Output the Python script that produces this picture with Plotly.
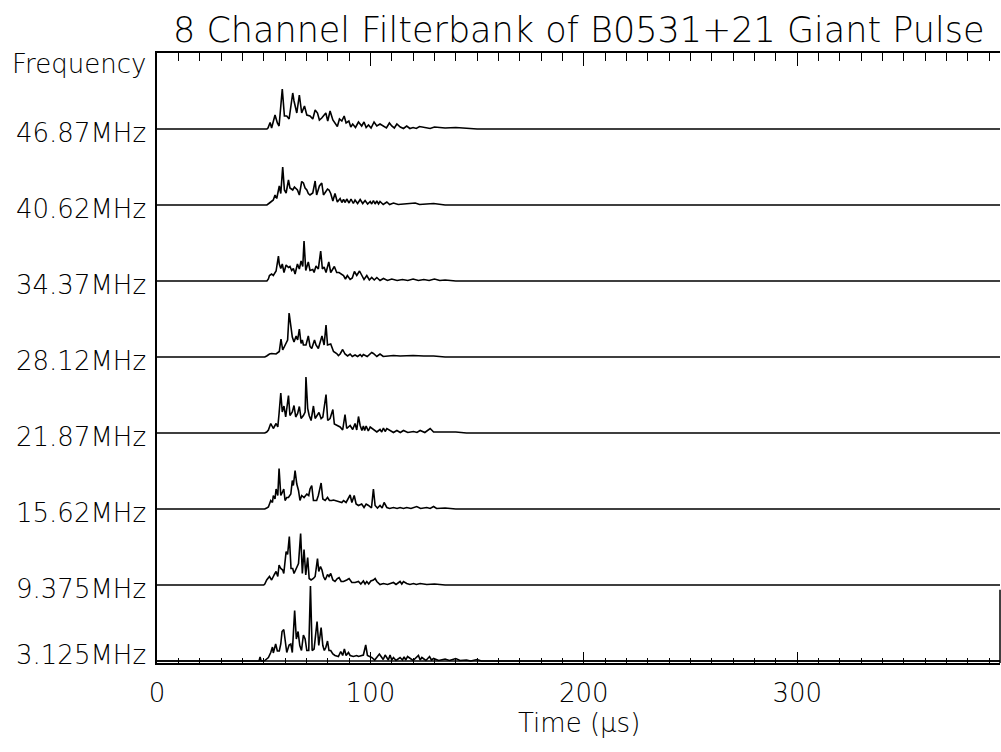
import plotly.graph_objects as go

# Filterbank channels, bottom to top
FREQ_LABELS = ["3.125MHz", "9.375MHz", "15.62MHz", "21.87MHz",
               "28.12MHz", "34.37MHz", "40.62MHz", "46.87MHz"]
X_TICKS = [0, 100, 200, 300]
T_MAX = 395          # end of the time axis (microseconds)
SPACING = 76         # vertical offset between channel baselines (arb. units)

# (time in us, detected power in arb. units) for each channel
PULSE_3125 = [(47.8, 0), (48.3, 4), (48.8, 0), (50.5, 0.5), (52.2, 3.5), (53.3, 8.5), (54.1, 14), (54.5, 8),
              (55.6, 17), (56.4, 10), (57.3, 10), (58.0, 17), (58.6, 29.5), (59.4, 31.5), (60.2, 15),
              (60.8, 8.5), (61.9, 16), (62.7, 17), (63.4, 8.5), (64.5, 50.5), (65.3, 22), (66.1, 29.5),
              (66.9, 15.5), (67.7, 10.5), (68.6, 26), (69.4, 22), (70.2, 10.5), (71.1, 10.5), (71.9, 75),
              (72.7, 10.5), (73.6, 12), (74.2, 22), (75.0, 39.5), (75.8, 15.5), (76.9, 33.5), (77.7, 15.5),
              (78.4, 10.5), (79.1, 13.5), (79.9, 20), (80.6, 10.5), (81.4, 10.5), (82.4, 7), (83.4, 5.5),
              (85.0, 4.5), (86.1, 9.5), (87.0, 5.5), (87.8, 12), (88.6, 5.5), (89.7, 8.5), (90.5, 5.5),
              (92.0, 4.5), (93.6, 5.5), (94.4, 4.5), (96.7, 6), (97.8, 16), (98.6, 5.5), (100.6, 3.5),
              (102.0, 1), (104.2, 7), (105.0, 4.5), (106.0, 1.5), (106.9, 6), (107.7, 3.5), (108.4, 1),
              (109.2, 6), (110.0, 1), (110.8, 3.5), (112.0, 0.5), (113.9, 3.5), (115.0, 1), (115.8, 4),
              (116.6, 1), (117.4, 4.5), (118.6, 2.5), (120.0, 0.5), (122.5, 5.5), (123.3, 1), (124.1, 3.5),
              (126.0, 0.5), (127.7, 4.5), (128.6, 1), (129.6, 2.5), (132.0, 0.5), (135.0, 2), (137.0, 0.5),
              (140.0, 2.5), (142.0, 0.5), (145.0, 1), (147.0, 0), (150.0, 1.5), (152.0, 0)]

PULSE_9375 = [(50.0, 0), (50.5, 1), (51.4, 5), (52.7, 8.5), (53.7, 5), (55.0, 10.5), (55.8, 13.5), (56.6, 8.5),
              (57.2, 20), (58.0, 16.5), (58.9, 15), (59.4, 11.5), (60.5, 33.5), (61.2, 30.5), (62.0, 48.5),
              (62.8, 16.5), (63.6, 16.5), (64.2, 11.5), (65.2, 16.5), (66.3, 21.5), (67.3, 51.5),
              (68.1, 11.5), (68.9, 35.5), (69.7, 10), (70.6, 27.5), (71.3, 6.5), (72.2, 5), (73.3, 6.5),
              (74.1, 8.5), (75.2, 26.5), (75.8, 13.5), (76.6, 18.5), (77.3, 15), (78.0, 8.5), (78.8, 5),
              (79.9, 10.5), (80.6, 8.5), (81.4, 11.5), (82.4, 5), (83.4, 3.5), (84.5, 6.5), (85.3, 7.5),
              (86.3, 3.5), (87.4, 3.5), (88.9, 5), (90.0, 6.5), (91.3, 2.5), (92.8, 2.5), (94.4, 3.5),
              (95.5, 1), (96.7, 4), (97.5, 1), (98.3, 3.5), (99.2, 1), (100.2, 4), (101.4, 5), (102.2, 6.5),
              (103.0, 3.5), (104.5, 0.5), (106.1, 1.5), (108.0, 0.5), (110.8, 2.5), (112.0, 0.5),
              (113.9, 3.5), (114.7, 1), (115.5, 3.5), (117.0, 1.5), (118.5, 0.5), (120.2, 1.5),
              (121.5, 0.5), (123.3, 1.5), (126.4, 0.5), (130.0, 1), (135.0, 0)]

PULSE_1562 = [(50.5, 0), (51.4, 1), (52.2, 2), (53.3, 8.5), (54.1, 6.5), (54.5, 13.5), (55.3, 10), (55.8, 20),
              (56.6, 13.5), (57.2, 40.5), (58.0, 13.5), (58.6, 16), (59.4, 20), (60.0, 8.5), (60.8, 11.5),
              (61.6, 11.5), (62.7, 15), (63.4, 28.5), (63.9, 23.5), (64.7, 38.5), (65.5, 25), (66.3, 18.5),
              (67.0, 8.5), (67.8, 13.5), (68.9, 11.5), (70.2, 15), (71.1, 13.5), (71.7, 20), (72.5, 23.5),
              (73.3, 8.5), (74.8, 8.5), (75.6, 13.5), (76.9, 26), (77.7, 10), (78.8, 8.5), (79.9, 11.5),
              (80.8, 8.5), (81.9, 8.5), (82.7, 9), (85.0, 7.5), (86.6, 6.5), (87.4, 8.5), (88.6, 6.5),
              (90.5, 14), (91.3, 6.5), (92.4, 13.5), (93.3, 5), (94.4, 3.5), (95.9, 5), (97.0, 1.5),
              (98.0, 5), (99.1, 3.5), (100.5, 1), (101.4, 20), (102.2, 3.5), (103.3, 1), (104.5, 3.5),
              (105.5, 1), (106.4, 6.5), (107.7, 1.5), (109.0, 0.5), (110.8, 1.5), (112.5, 0.5),
              (113.9, 1.5), (115.5, 0.5), (117.0, 1.5), (119.0, 0.5), (121.7, 2.5), (123.5, 0.5),
              (126.4, 1.5), (128.0, 0.5), (129.6, 2.5), (131.0, 0.5), (135.0, 1), (140.0, 0)]

PULSE_2187 = [(50.5, 0), (51.4, 1), (52.2, 3), (53.3, 9.5), (54.5, 4.5), (55.8, 9.5), (56.6, 6), (57.2, 19.5),
              (58.0, 40), (58.7, 21), (59.5, 27), (60.3, 16), (61.6, 37.5), (62.3, 17.5), (63.4, 21),
              (64.2, 27.5), (65.0, 16), (65.9, 19.5), (66.7, 26.5), (67.5, 14.5), (68.6, 17.5), (69.4, 21),
              (69.8, 56), (70.6, 24.5), (71.3, 17.5), (72.2, 12.5), (73.3, 27), (74.1, 14.5), (75.2, 17.5),
              (75.9, 20.5), (76.9, 14.5), (77.7, 16), (79.2, 38.5), (80.0, 12.5), (81.1, 14.5), (82.4, 23.5),
              (83.1, 9), (84.2, 7.5), (85.8, 6), (87.0, 3), (88.1, 18.5), (88.9, 4.5), (90.5, 7.5),
              (91.7, 3.5), (92.8, 9.5), (93.6, 3), (94.4, 16.5), (95.2, 7.5), (96.0, 2.5), (96.7, 7),
              (97.3, 2.5), (98.0, 7), (99.0, 2), (99.9, 6), (101.4, 3.5), (103.0, 1), (104.5, 3.5),
              (105.3, 1), (106.1, 5), (106.9, 1.5), (107.7, 4.5), (109.2, 2.5), (110.8, 0.5),
              (112.4, 2.5), (114.0, 0.5), (115.5, 2.5), (117.5, 0.5), (120.2, 1.5), (121.8, 0.5),
              (123.3, 2.5), (125.5, 0.5), (128.0, 4.5), (129.6, 1), (132.7, 1), (140.0, 1), (145.0, 0)]

PULSE_2812 = [(50.5, 0), (51.4, 1), (52.7, 3), (53.7, 3.5), (55.8, 3), (57.3, 5.5), (58.1, 18), (58.9, 7),
              (60.5, 14), (61.2, 17), (61.9, 44), (62.7, 30), (63.4, 20), (64.2, 15), (65.2, 21), (65.9, 17),
              (66.7, 28), (67.5, 13.5), (68.1, 17), (68.6, 12), (69.8, 12), (70.9, 21), (71.7, 10.5),
              (72.5, 8.5), (73.8, 17), (74.5, 12), (75.6, 8.5), (77.3, 21), (78.3, 12), (79.2, 32),
              (79.9, 12), (81.4, 13), (82.7, 5.5), (84.2, 3.5), (85.0, 1.5), (85.8, 3), (87.0, 7.5),
              (88.1, 3), (89.3, 1), (90.5, 3), (91.5, 0.5), (92.8, 2), (94.0, 0.5), (95.2, 2.5), (96.0, 0.5),
              (96.7, 2.5), (98.5, 0.5), (100.6, 4.5), (101.4, 3.5), (103.0, 0.5), (104.5, 3), (106.0, 0.5),
              (107.7, 1), (110.8, 1.5), (113.9, 1), (120.0, 1.5), (125.0, 1), (129.6, 1), (135.0, 0)]

PULSE_3437 = [(51.5, 0), (52.2, 2), (52.7, 5.5), (53.7, 7), (54.5, 5.5), (55.8, 10), (56.9, 25), (57.3, 17),
              (58.0, 12.5), (58.7, 17), (59.5, 8.5), (60.5, 16), (61.6, 13.5), (62.3, 14.5), (63.1, 10.5),
              (63.9, 12.5), (64.7, 7), (65.8, 17), (66.7, 12), (67.5, 20), (68.3, 14.5), (68.9, 40),
              (69.7, 10.5), (70.9, 19), (71.7, 10.5), (73.0, 11.5), (73.6, 8.5), (74.5, 15), (75.6, 12),
              (76.7, 30), (77.5, 12), (78.3, 14), (79.2, 8.5), (80.5, 19), (81.4, 8.5), (83.1, 14.5),
              (84.2, 8.5), (85.3, 8.5), (86.6, 7), (87.4, 5.5), (88.3, 2), (89.2, 5.5), (90.5, 1.5),
              (91.5, 3), (92.5, 9.5), (93.6, 5.5), (94.9, 10), (95.9, 5.5), (97.0, 1.5), (98.3, 5.5),
              (99.5, 1), (100.6, 3.5), (101.8, 1), (103.0, 3.5), (104.5, 0.5), (106.1, 2.5), (108.0, 0.5),
              (110.0, 2), (112.5, 0.5), (115.0, 1.5), (117.5, 0.5), (120.0, 2), (122.5, 0.5),
              (125.0, 1.5), (127.5, 0.5), (130.0, 2), (132.5, 0.5), (135.0, 1), (140.0, 0)]

PULSE_4062 = [(51.5, 0), (52.7, 2), (53.7, 4), (54.5, 5), (55.3, 10), (56.1, 6.5), (57.3, 19), (58.0, 11.5),
              (58.9, 38), (59.7, 15), (60.5, 12), (61.6, 25), (62.3, 17), (63.6, 15), (64.4, 18), (65.8, 15),
              (66.7, 10), (67.8, 23.5), (68.6, 22), (69.4, 17), (70.2, 15), (70.9, 11.5), (71.7, 10),
              (73.0, 12), (74.1, 24), (74.8, 10), (76.1, 19), (77.2, 22), (78.0, 10), (79.9, 16), (80.6, 15),
              (81.4, 11.5), (82.4, 4), (83.4, 11.5), (84.5, 3), (85.8, 6.5), (86.6, 2.5), (87.4, 5.5),
              (88.2, 2.5), (88.9, 6), (90.0, 2), (90.9, 6), (92.0, 1.5), (92.8, 5), (94.0, 1.5), (95.2, 5.5),
              (96.4, 1.5), (97.5, 4.5), (98.7, 1), (99.9, 3.5), (100.6, 1), (101.4, 4.5), (102.2, 1),
              (103.0, 4), (103.8, 1), (104.5, 3.5), (106.0, 0.5), (107.7, 3), (109.0, 0.5), (110.8, 2),
              (113.0, 0.5), (117.0, 1), (121.0, 2), (123.0, 0.5), (125.0, 1), (129.6, 1.5), (135.0, 0)]

PULSE_4687 = [(51.5, 0), (52.0, 1), (53.0, 6.5), (53.7, 1), (55.3, 14), (56.4, 6), (57.2, 3), (58.7, 40),
              (59.7, 13), (60.8, 13), (61.9, 10), (63.6, 36), (64.2, 28), (65.5, 16), (66.7, 34), (67.8, 16),
              (69.1, 23), (70.2, 14), (71.7, 13), (73.0, 10), (74.1, 19), (75.2, 16), (76.1, 9), (77.2, 11),
              (79.1, 16), (80.0, 8), (81.1, 18), (82.4, 9), (83.4, 6), (84.5, 2.5), (85.5, 10), (86.6, 8),
              (87.7, 13), (88.6, 6), (89.9, 8), (90.8, 2), (91.7, 5), (93.0, 1.5), (94.4, 7), (95.9, 3),
              (97.0, 7), (98.0, 1.5), (99.1, 4), (100.3, 1), (101.7, 7), (103.0, 3), (104.5, 5),
              (106.1, 3), (107.5, 1), (108.9, 6), (110.0, 3), (111.2, 1), (112.4, 5), (114.0, 2),
              (115.5, 0.5), (117.0, 3), (118.5, 0.5), (120.0, 1.5), (121.5, 0.5), (123.0, 2.5),
              (126.0, 1.5), (128.0, 0.5), (130.0, 2), (135.0, 1), (140.0, 1.5), (145.0, 1), (150.0, 0)]

CHANNELS = [PULSE_3125, PULSE_9375, PULSE_1562, PULSE_2187,
            PULSE_2812, PULSE_3437, PULSE_4062, PULSE_4687]

FONT = "DejaVu Sans"
INK = "#000000"
TEXT_FONT = dict(family=FONT, color=INK, weight=300)

fig = go.Figure()

for k, pulse in enumerate(CHANNELS):
    base = k * SPACING
    xs = [0] + [p[0] for p in pulse] + [T_MAX]
    ys = [base] + [base + p[1] for p in pulse] + [base]
    fig.add_trace(go.Scatter(x=xs, y=ys, mode="lines",
                             line=dict(color=INK, width=1.6),
                             showlegend=False, hoverinfo="skip"))

# carrier for the upper time axis
fig.add_trace(go.Scatter(x=[0, T_MAX], y=[0, 0], xaxis="x2", mode="lines",
                         line=dict(color=INK, width=1.6),
                         showlegend=False, hoverinfo="skip"))

annotations = []
for k, lab in enumerate(FREQ_LABELS):
    annotations.append(dict(text=lab, x=0, xref="paper", xanchor="right", xshift=-9,
                            y=k * SPACING, yref="y", yanchor="middle",
                            yshift=6 if k == 0 else -4,
                            showarrow=False, font=dict(TEXT_FONT, size=26)))
annotations.append(dict(text="Frequency", x=0, xref="paper", xanchor="right", xshift=-9,
                        y=1, yref="paper", yanchor="middle", yshift=-11,
                        showarrow=False, font=dict(TEXT_FONT, size=26)))
annotations.append(dict(text="8 Channel Filterbank of B0531+21 Giant Pulse",
                        x=0.5, xref="paper", xanchor="center",
                        y=1, yref="paper", yanchor="middle", yshift=23,
                        showarrow=False, font=dict(TEXT_FONT, size=35)))
annotations.append(dict(text="Time (μs)", x=0.5, xref="paper", xanchor="center",
                        y=0, yref="paper", yanchor="middle", yshift=-60,
                        showarrow=False, font=dict(TEXT_FONT, size=26)))

fig.update_layout(
    width=1001, height=752,
    margin=dict(l=157, r=1, t=53, b=89),
    paper_bgcolor="white", plot_bgcolor="white",
    xaxis=dict(range=[0, T_MAX], tickmode="array", tickvals=X_TICKS,
               ticktext=[str(v) for v in X_TICKS],
               ticks="inside", ticklen=11, tickwidth=1.2, tickcolor=INK,
               minor=dict(tickmode="linear", tick0=0, dtick=10, ticks="inside",
                          ticklen=5, tickwidth=1.2, tickcolor=INK, showgrid=False),
               showline=True, linecolor=INK, linewidth=1.5,
               showgrid=False, zeroline=False, ticklabelstandoff=6,
               tickfont=dict(TEXT_FONT, size=26)),
    xaxis2=dict(range=[0, T_MAX], overlaying="x", side="top", matches="x",
                tickmode="array", tickvals=X_TICKS, showticklabels=False,
                ticks="inside", ticklen=13, tickwidth=1.2, tickcolor=INK,
                minor=dict(tickmode="linear", tick0=0, dtick=10, ticks="inside",
                           ticklen=8, tickwidth=1.2, tickcolor=INK, showgrid=False),
                showline=True, linecolor=INK, linewidth=1.5,
                showgrid=False, zeroline=False),
    yaxis=dict(range=[-2, 608], showticklabels=False, ticks="",
               showline=True, linecolor=INK, linewidth=1.5,
               showgrid=False, zeroline=False),
    annotations=annotations,
    shapes=[dict(type="line", xref="paper", yref="paper", x0=1, x1=1, y0=0, y1=0.12,
                 line=dict(color=INK, width=1.5))],
)

fig.write_html("out.html")
